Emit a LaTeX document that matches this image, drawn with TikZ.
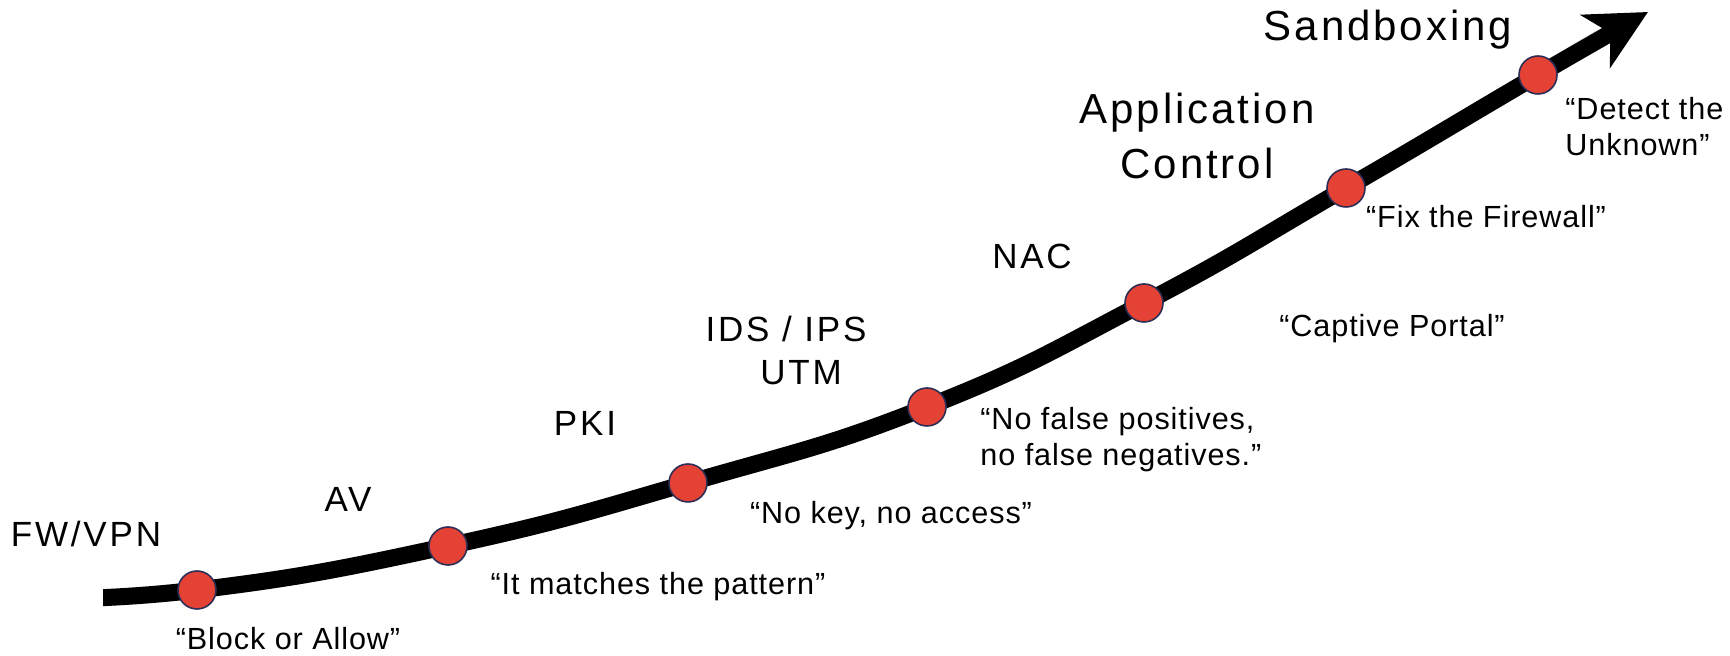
\documentclass[tikz,border=0pt]{standalone}
\usepackage{fontspec}
\setmainfont{Liberation Sans}
\usetikzlibrary{arrows.meta}
\definecolor{dotred}{RGB}{228,66,52}
\definecolor{dotrim}{RGB}{45,45,85}
\begin{document}
\begin{tikzpicture}[x=0.5pt,y=-0.5pt,
  dotnode/.style={circle,fill=dotred,draw=dotrim,line width=0.8pt,minimum size=19pt,inner sep=0pt},
  bigtext/.style={font=\fontsize{21}{27.5}\selectfont\addfontfeature{LetterSpace=7},align=center,inner sep=0pt},
  midtext/.style={font=\fontsize{17.5}{21}\selectfont\addfontfeature{LetterSpace=8},align=center,inner sep=0pt},
  quotetext/.style={font=\fontsize{15.3}{18}\selectfont\addfontfeature{LetterSpace=3},inner sep=0pt},
  trend/.style={line width=8.5pt,line cap=butt,-{Stealth[length=30pt,width=30pt,inset=8.5pt]}}]
\useasboundingbox (0,0) rectangle (1730,656);
% points on the curve
\coordinate (s0) at (10,599);
\coordinate (s) at (103,595);
\coordinate (p1) at (197,590);
\coordinate (p2) at (448,546);
\coordinate (p3) at (688,483);
\coordinate (p4) at (927,407);
\coordinate (p5) at (1144,303);
\coordinate (p6) at (1346,188);
\coordinate (p7) at (1538,75);
\coordinate (e) at (1648,12);
\begin{scope}
\clip (s |- 0,0) rectangle (1730,656);
% shadow
\draw[line width=8.5pt,black!25,opacity=0.5,shift={(3,-4)}] plot[smooth,tension=0.8] coordinates {(s0) (p1) (p2) (p3) (p4) (p5) (p6) (p7) (1615,31)};
% curve
\draw[trend] plot[smooth,tension=0.8] coordinates {(s0) (p1) (p2) (p3) (p4) (p5) (p6) (p7) (e)};
\end{scope}
% dots
\foreach \i in {1,...,7} {\node[dotnode] (d\i) at (p\i) {};}
% labels
\node[bigtext] (tSand) at (1388,30) {Sandboxing};
\node[bigtext] (tApp) at (1197,136) {Application\\Control};
\node[midtext] (tNAC) at (1032,256) {NAC};
\node[midtext] (tIDS) at (786,329) {IDS / IPS};
\node[midtext] (tUTM) at (801,373) {UTM};
\node[midtext] (tPKI) at (585,423) {PKI};
\node[midtext] (tAV) at (348,499) {AV};
\node[midtext] (tFW) at (86,534) {FW/VPN};
% quotes
\node[quotetext] (q1) at (288,639) {“Block or Allow”};
\node[quotetext] (q2) at (658,587) {“It matches the pattern”};
\node[quotetext] (q3) at (891,516) {“No key, no access”};
\node[quotetext,align=left,anchor=west] (q4) at (980,440) {“No false positives,\\no false negatives.”};
\node[quotetext] (q5) at (1392,329) {“Captive Portal”};
\node[quotetext] (q6) at (1486,217) {“Fix the Firewall”};
\node[quotetext,align=left,anchor=west] (q7) at (1565,127) {“Detect the\\Unknown”};
\end{tikzpicture}
\end{document}
